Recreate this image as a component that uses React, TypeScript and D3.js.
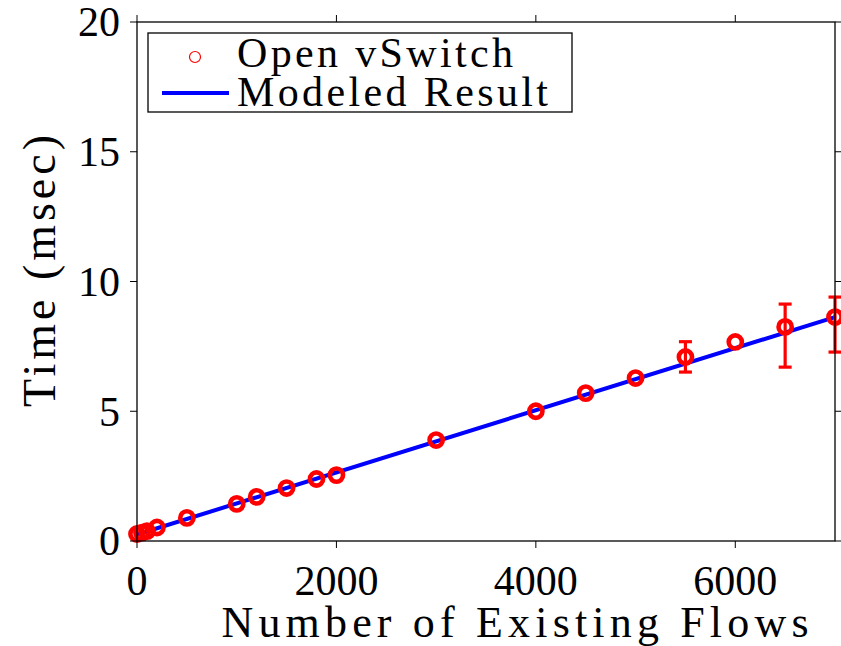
import React from "react";
import * as d3 from "d3";

// Measured flow-setup time for Open vSwitch vs. number of existing flows
const flowCounts = [0, 50, 100, 200, 500, 1000, 1200, 1500, 1800, 2000, 3000, 4000, 4500, 5000, 5500, 6000, 6500, 7000];
const measuredMs = [0.27, 0.32, 0.38, 0.52, 0.89, 1.43, 1.7, 2.04, 2.39, 2.54, 3.89, 5.0, 5.7, 6.28, 7.09, 7.67, 8.25, 8.63];
const errLowMs = [0.27, 0.32, 0.38, 0.52, 0.89, 1.43, 1.7, 2.04, 2.39, 2.54, 3.89, 5.0, 5.7, 6.22, 6.51, 7.55, 6.7, 7.28];
const errHighMs = [0.27, 0.32, 0.38, 0.52, 0.89, 1.43, 1.7, 2.04, 2.39, 2.54, 3.89, 5.0, 5.7, 6.34, 7.68, 7.8, 9.13, 9.4];

// Linear model endpoints
const modelFlows = [0, 7000];
const modelMs = [0.25, 8.63];

const xTicks = [0, 2000, 4000, 6000];
const yTicks = [0, 5, 10, 15, 20];

const legendLabels = ["Open vSwitch", "Modeled Result"];

const W = 841;
const H = 646;
const FONT = "Liberation Serif, DejaVu Serif, serif";

export default function App() {
  const x = d3.scaleLinear().domain([0, 7000]).range([137, 835]);
  const y = d3.scaleLinear().domain([0, 20]).range([541, 22]);
  const [x0, x1] = x.range();
  const [y0, y1] = y.range();

  const line = d3
    .line<number>()
    .x((_, i) => x(modelFlows[i]))
    .y((d) => y(d));

  const red = "#ff0000";
  const blue = "#0000ff";
  const tick = 7;
  const txt = { fontFamily: FONT };

  return (
    <svg
      width={W}
      height={H}
      style={{ position: "absolute", left: 0, top: 0, background: "#fff", fontFamily: FONT }}
    >
      <rect x={0} y={0} width={W} height={H} fill="#fff" />

      {/* model line */}
      <path d={line(modelMs) || ""} fill="none" stroke={blue} strokeWidth={4} />

      {/* error bars */}
      {flowCounts.map((f, i) =>
        errHighMs[i] - errLowMs[i] > 0.3 ? (
          <g key={"e" + i} stroke={red} strokeWidth={3.2}>
            <line x1={x(f)} x2={x(f)} y1={y(errLowMs[i])} y2={y(errHighMs[i])} />
            <line x1={x(f) - 6.5} x2={x(f) + 6.5} y1={y(errLowMs[i])} y2={y(errLowMs[i])} />
            <line x1={x(f) - 6.5} x2={x(f) + 6.5} y1={y(errHighMs[i])} y2={y(errHighMs[i])} />
          </g>
        ) : null
      )}

      {/* measured points */}
      {flowCounts.map((f, i) => (
        <circle
          key={"p" + i}
          cx={x(f)}
          cy={y(measuredMs[i])}
          r={6.6}
          fill="none"
          stroke={red}
          strokeWidth={4.6}
        />
      ))}

      {/* frame */}
      <rect x={x0} y={y1} width={x1 - x0} height={y0 - y1} fill="none" stroke="#000" strokeWidth={1.3} />

      {/* ticks on all four sides, pointing outward */}
      {xTicks.map((t) => (
        <g key={"xt" + t} stroke="#000" strokeWidth={1}>
          <line x1={x(t)} x2={x(t)} y1={y0} y2={y0 + tick} />
          <line x1={x(t)} x2={x(t)} y1={y1} y2={y1 - tick} />
        </g>
      ))}
      {yTicks.map((t) => (
        <g key={"yt" + t} stroke="#000" strokeWidth={1}>
          <line x1={x0} x2={x0 - tick} y1={y(t)} y2={y(t)} />
          <line x1={x1} x2={x1 + tick} y1={y(t)} y2={y(t)} />
        </g>
      ))}

      {/* tick labels */}
      {xTicks.map((t) => (
        <text key={"xl" + t} x={x(t)} y={595} textAnchor="middle" fontSize={42} fill="#000" style={txt}>
          {t}
        </text>
      ))}
      {yTicks.map((t) => (
        <text
          key={"yl" + t}
          x={120}
          y={y(t)}
          dy="0.34em"
          textAnchor="end"
          fontSize={42}
          fill="#000"
          style={txt}
        >
          {t}
        </text>
      ))}

      {/* axis titles */}
      <text
        x={515}
        y={637}
        textAnchor="middle"
        fontSize={44}
        fill="#000"
        textLength={587}
        lengthAdjust="spacing"
        style={txt}
      >
        Number of Existing Flows
      </text>
      <text
        transform={`translate(55, 271) rotate(-90)`}
        textAnchor="middle"
        fontSize={46}
        fill="#000"
        textLength={272}
        lengthAdjust="spacing"
        style={txt}
      >
        Time (msec)
      </text>

      {/* legend */}
      <rect x={148} y={33} width={424} height={79} fill="#fff" stroke="#000" strokeWidth={1.3} />
      <circle cx={195} cy={57} r={5.5} fill="none" stroke={red} strokeWidth={1.2} />
      <line x1={162} x2={229} y1={93} y2={93} stroke={blue} strokeWidth={4} />
      <text x={237} y={67} fontSize={42} fill="#000" textLength={276} lengthAdjust="spacing" style={txt}>
        {legendLabels[0]}
      </text>
      <text x={237} y={106} fontSize={42} fill="#000" textLength={311} lengthAdjust="spacing" style={txt}>
        {legendLabels[1]}
      </text>
    </svg>
  );
}
